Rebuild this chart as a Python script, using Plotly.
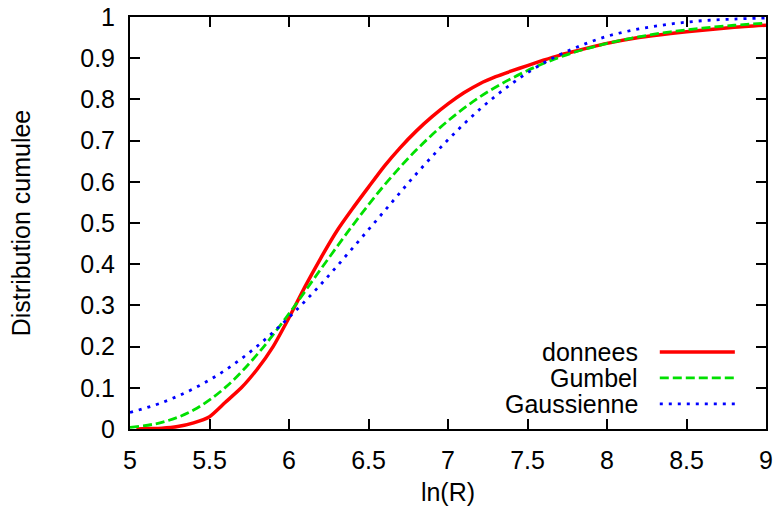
import plotly.graph_objects as go

# ---- data ----
x_data = [5.04, 5.1, 5.2, 5.3, 5.4, 5.5, 5.6, 5.7, 5.8, 5.9, 6.0, 6.1, 6.2, 6.3, 6.4,
          6.5, 6.6, 6.7, 6.8, 6.9, 7.0, 7.1, 7.2, 7.3, 7.4, 7.5, 7.6, 7.7, 7.8,
          7.9, 8.0, 8.2, 8.4, 8.6, 8.8, 9.0]
y_donnees = [0.0, 0.001, 0.002, 0.006, 0.015, 0.03, 0.065, 0.10, 0.145, 0.20, 0.27,
             0.345, 0.415, 0.48, 0.535, 0.587, 0.638, 0.683, 0.723, 0.758, 0.789,
             0.816, 0.838, 0.855, 0.869, 0.882, 0.895, 0.907, 0.917, 0.927, 0.936,
             0.95, 0.96, 0.968, 0.975, 0.98]

x_fit = [5.0, 5.2, 5.4, 5.6, 5.8, 6.0, 6.2, 6.4, 6.6, 6.8, 7.0, 7.2, 7.4, 7.6,
         7.8, 8.0, 8.2, 8.4, 8.6, 8.8, 9.0]
y_gumbel = [0.004, 0.016, 0.046, 0.101, 0.181, 0.280, 0.388, 0.494, 0.592, 0.677,
            0.748, 0.806, 0.851, 0.887, 0.915, 0.936, 0.952, 0.964, 0.973, 0.980,
            0.985]
y_gauss = [0.040, 0.064, 0.098, 0.143, 0.201, 0.271, 0.351, 0.439, 0.529, 0.619,
           0.702, 0.776, 0.838, 0.888, 0.925, 0.953, 0.971, 0.983, 0.991, 0.995,
           0.9975]

series_names = ["donnees", "Gumbel", "Gaussienne"]
x_ticks = [5, 5.5, 6, 6.5, 7, 7.5, 8, 8.5, 9]
x_ticklabels = ["5", "5.5", "6", "6.5", "7", "7.5", "8", "8.5", "9"]
y_ticks = [0, 0.1, 0.2, 0.3, 0.4, 0.5, 0.6, 0.7, 0.8, 0.9, 1.0]
y_ticklabels = ["0", "0.1", "0.2", "0.3", "0.4", "0.5", "0.6", "0.7", "0.8", "0.9", "1"]

FONT = "Liberation Sans, Arial, sans-serif"
FS = 25
colors = ["#ff0000", "#00e000", "#0000ff"]
dashes = ["solid", "9px,4px", "3px,6px"]
widths = [3.5, 2.8, 2.8]

fig = go.Figure()
fig.add_trace(go.Scatter(x=x_data, y=y_donnees, mode="lines", name=series_names[0],
                         line=dict(color=colors[0], width=widths[0], dash=dashes[0],
                                   shape="spline", smoothing=0.6)))
fig.add_trace(go.Scatter(x=x_fit, y=y_gumbel, mode="lines", name=series_names[1],
                         line=dict(color=colors[1], width=widths[1], dash=dashes[1],
                                   shape="spline")))
fig.add_trace(go.Scatter(x=x_fit, y=y_gauss, mode="lines", name=series_names[2],
                         line=dict(color=colors[2], width=widths[2], dash=dashes[2],
                                   shape="spline")))

axis_common = dict(showgrid=False, zeroline=False, showline=True, linecolor="black",
                   linewidth=2, mirror="ticks", ticks="inside", ticklen=10,
                   tickwidth=2, tickcolor="black",
                   tickfont=dict(family=FONT, size=FS, color="black"))

fig.update_xaxes(range=[5, 9], tickvals=x_ticks, ticktext=x_ticklabels,
                 ticklabelstandoff=8,
                 title=dict(text="ln(R)", font=dict(family=FONT, size=FS, color="black"),
                            standoff=10),
                 **axis_common)
fig.update_yaxes(range=[0, 1], tickvals=y_ticks, ticktext=y_ticklabels,
                 ticklabelstandoff=8,
                 title=dict(text="Distribution cumulee",
                            font=dict(family=FONT, size=FS, color="black"),
                            standoff=42),
                 **axis_common)

# gnuplot-style legend: text right-aligned, line sample to its right
legend_rows_y = [0.187, 0.124, 0.061]
for name, c, d, w, yy in zip(series_names, colors, dashes, widths, legend_rows_y):
    fig.add_annotation(x=0.802, y=yy, xref="paper", yref="paper", text=name,
                       showarrow=False, xanchor="right", yanchor="middle",
                       font=dict(family=FONT, size=FS, color="black"))
    fig.add_shape(type="line", xref="paper", yref="paper", x0=0.833, x1=0.951,
                  y0=yy, y1=yy, line=dict(color=c, width=w, dash=d))

fig.update_layout(width=777, height=510, showlegend=False,
                  plot_bgcolor="white", paper_bgcolor="white",
                  margin=dict(l=130, r=11, t=17, b=81, autoexpand=False),
                  font=dict(family=FONT, size=FS, color="black"))

fig.write_html("out.html")
